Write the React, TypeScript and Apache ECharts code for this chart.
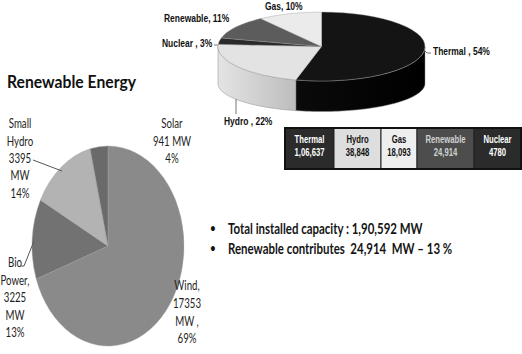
import React, { useEffect, useRef } from "react";
import * as echarts from "echarts";

// ---- Data ----
// Installed capacity mix (3D pie), clockwise from 12 o'clock
const mixNames = ["Thermal", "Hydro", "Nuclear", "Renewable", "Gas"];
const mixShares = [54, 22, 3, 11, 10];
const mixSeps = [" , ", " , ", " , ", ", ", ", "];

// Renewable breakdown (MW), clockwise from 12 o'clock
const reNames = ["Wind", "Bio Power", "Small Hydro", "Solar"];
const reMW = [17353, 3225, 3395, 941];
const rePct = [69, 13, 14, 4];

// Capacity table
const tableNames = ["Thermal", "Hydro", "Gas", "Renewable", "Nuclear"];
const tableValues = ["1,06,637", "38,848", "18,093", "24,914", "4780"];

const titleText = "Renewable Energy";
const bulletTexts = [
  "Total installed capacity : 1,90,592 MW",
  "Renewable contributes  24,914  MW \u2013 13 %",
];

// ---- Styling / layout ----
const SX = 0.77;
const TOP = { cx: 321.5, cy: 46.5, rx: 103.5, ry: 34.5, cyB: 83.5, ryB: 28 };
const LEFT = { cx: 108, cy: 246, rx: 76, ry: 100 };

const mixTop = ["#141414", "#e3e3e3", "#2a2a2a", "#5c5c5c", "#ebebeb"];
const reColors = ["#8a8a8a", "#727272", "#b3b3b3", "#6a6a6a"];

function cumulative(arr: number[]) {
  const out = [0];
  arr.forEach((v, i) => out.push(out[i] + v));
  return out;
}

let measureCtx: CanvasRenderingContext2D | null = null;
function fitScale(text: string, font: string, width: number) {
  if (!measureCtx) measureCtx = document.createElement("canvas").getContext("2d");
  measureCtx!.font = font;
  const w = measureCtx!.measureText(text).width;
  return w > 0 ? width / w : SX;
}

function txt(
  t: string,
  x: number,
  y: number,
  font: string,
  fill: string,
  align: string = "left",
  vAlign: string = "middle",
  sx: number = SX,
  lineHeight?: number
) {
  const style: any = { text: t, x: 0, y: 0, font, fill, textAlign: align, textVerticalAlign: vAlign };
  if (lineHeight) style.lineHeight = lineHeight;
  return { type: "text", x, y, scaleX: sx, z: 50, silent: true, style };
}

export default function App() {
  const ref = useRef<HTMLDivElement>(null);

  useEffect(() => {
    const chart = echarts.init(ref.current!, null, { renderer: "svg" });

    const mixTotal = mixShares.reduce((a, b) => a + b, 0);
    const mixCum = cumulative(mixShares);
    const reTotal = reMW.reduce((a, b) => a + b, 0);
    const reCum = cumulative(reMW);

    const mixSide: any[] = [
      new echarts.graphic.LinearGradient(0, 0, 1, 0, [
        { offset: 0, color: "#0a0a0a" },
        { offset: 1, color: "#000000" },
      ]),
      new echarts.graphic.LinearGradient(0, 0, 1, 0, [
        { offset: 0, color: "#e4e4e4" },
        { offset: 1, color: "#bdbdbd" },
      ]),
      "#1a1a1a",
      "#444444",
      "#cccccc",
    ];

    const topLabelFont = "bold 11px 'Liberation Sans', Arial, sans-serif";
    const labelPos: Record<string, [number, number]> = {
      Thermal: [433, 51],
      Hydro: [224, 121],
      Nuclear: [162, 43],
      Renewable: [164, 18],
      Gas: [265, 6],
    };

    const graphics: any[] = [];

    // Top pie labels
    mixNames.forEach((n, i) => {
      const p = labelPos[n];
      graphics.push(txt(`${n}${mixSeps[i]}${mixShares[i]}%`, p[0], p[1], topLabelFont, "#111"));
    });
    // Leader lines (top pie)
    graphics.push({ type: "line", z: 50, shape: { x1: 236, y1: 99, x2: 236, y2: 114 }, style: { stroke: "#777", lineWidth: 1 } });
    graphics.push({ type: "polyline", z: 50, shape: { points: [[425, 51], [427, 53], [431, 53]] }, style: { stroke: "#777", lineWidth: 1, fill: "none" } });
    graphics.push({ type: "line", z: 50, shape: { x1: 214, y1: 45, x2: 218, y2: 45 }, style: { stroke: "#777", lineWidth: 1 } });

    // Table
    const colEdges = [285, 334, 381, 417, 474, 521];
    const tY0 = 128, tY1 = 169;
    const cellFill = ["#2b2b2b", "#dedede", "#eeeeee", "#4d4d4d", "#2b2b2b"];
    const cellText = ["#ffffff", "#111111", "#111111", "#d0d0d0", "#ffffff"];
    const tableFont = "bold 10px 'Liberation Sans', Arial, sans-serif";
    tableNames.forEach((n, i) => {
      const x0 = colEdges[i], x1 = colEdges[i + 1];
      graphics.push({
        type: "rect", z: 40,
        shape: { x: x0, y: tY0, width: x1 - x0, height: tY1 - tY0 },
        style: { fill: cellFill[i], stroke: "#222", lineWidth: 1 },
      });
      const cx = (x0 + x1) / 2;
      graphics.push(txt(n, cx, 140, tableFont, cellText[i], "center"));
      graphics.push(txt(tableValues[i], cx, 153, tableFont, cellText[i], "center"));
    });
    graphics.push({
      type: "rect", z: 45,
      shape: { x: colEdges[0], y: tY0, width: colEdges[5] - colEdges[0], height: tY1 - tY0 },
      style: { fill: "none", stroke: "#111", lineWidth: 2 },
    });

    // Title
    const titleFont = "bold 17px Lato, sans-serif";
    graphics.push(txt(titleText, 7, 81, titleFont, "#111", "left", "middle", fitScale(titleText, titleFont, 129)));

    // Bullets
    const bulletFont = "bold 15px Lato, sans-serif";
    const bs = fitScale(bulletTexts[0], bulletFont, 195);
    const bulletY = [228, 248];
    bulletTexts.forEach((b, i) => {
      graphics.push(txt("\u2022", 213, bulletY[i], "14px Lato, sans-serif", "#111", "center"));
      graphics.push(txt(b, 228, bulletY[i], bulletFont, "#151515", "left", "middle", bs));
    });

    // Left pie labels
    const lf = "12.5px Lato, sans-serif";
    const ls = fitScale(`${reMW[3]} MW`, lf, 38.3);
    const lc = "#1e1e1e";
    graphics.push(txt(`Small\nHydro\n${reMW[2]}\nMW\n${rePct[2]}%`, 20, 114.5, lf, lc, "center", "top", ls, 17.4));
    graphics.push(txt(`Solar\n${reMW[3]} MW\n${rePct[3]}%`, 172, 114.5, lf, lc, "center", "top", ls, 17.4));
    graphics.push(txt(`Bio\nPower,\n${reMW[1]}\nMW\n${rePct[1]}%`, 15, 253.5, lf, lc, "center", "top", ls, 17.5));
    graphics.push(txt(`Wind,\n${reMW[0]}\nMW ,\n${rePct[0]}%`, 187, 276.5, lf, lc, "center", "top", ls, 17.6));
    graphics.push({ type: "line", z: 50, shape: { x1: 33, y1: 160, x2: 62, y2: 171 }, style: { stroke: "#555", lineWidth: 1 } });
    graphics.push({ type: "polyline", z: 50, shape: { points: [[21, 266], [24, 266], [34, 241]] }, style: { stroke: "#555", lineWidth: 1, fill: "none" } });

    const option: any = {
      animation: false,
      backgroundColor: "#ffffff",
      series: [
        {
          type: "custom",
          name: "Installed capacity",
          coordinateSystem: "none",
          silent: true,
          data: mixShares,
          renderItem: (params: any) => {
            const i = params.dataIndex;
            const t0 = (mixCum[i] / mixTotal) * 360;
            const t1 = (mixCum[i + 1] / mixTotal) * 360;
            const children: any[] = [];
            const a = Math.max(t0, 90), b = Math.min(t1, 270);
            if (b > a) {
              const n = Math.max(2, Math.ceil((b - a) / 2));
              const topPts: number[][] = [];
              const botPts: number[][] = [];
              for (let k = 0; k <= n; k++) {
                const th = ((a + ((b - a) * k) / n) * Math.PI) / 180;
                const x = TOP.cx + TOP.rx * Math.sin(th);
                topPts.push([x, TOP.cy - TOP.ry * Math.cos(th)]);
                botPts.push([x, TOP.cyB - TOP.ryB * Math.cos(th)]);
              }
              children.push({
                type: "polygon",
                shape: { points: topPts.concat(botPts.reverse()) },
                style: { fill: mixSide[i], stroke: "#8a8a8a", lineWidth: 0.5 },
              });
            }
            children.push({
              type: "sector",
              x: TOP.cx,
              y: TOP.cy,
              scaleY: TOP.ry / TOP.rx,
              shape: {
                cx: 0, cy: 0, r: TOP.rx, r0: 0,
                startAngle: ((t0 - 90) * Math.PI) / 180,
                endAngle: ((t1 - 90) * Math.PI) / 180,
                clockwise: true,
              },
              style: { fill: mixTop[i], stroke: "#9a9a9a", lineWidth: 0.6, strokeNoScale: true },
            });
            return { type: "group", children };
          },
        },
        {
          type: "custom",
          name: "Renewable Energy",
          coordinateSystem: "none",
          silent: true,
          data: reMW,
          renderItem: (params: any) => {
            const i = params.dataIndex;
            const a0 = -Math.PI / 2 + (reCum[i] / reTotal) * 2 * Math.PI;
            const a1 = -Math.PI / 2 + (reCum[i + 1] / reTotal) * 2 * Math.PI;
            return {
              type: "sector",
              x: LEFT.cx,
              y: LEFT.cy,
              scaleX: LEFT.rx / LEFT.ry,
              shape: { cx: 0, cy: 0, r: LEFT.ry, r0: 0, startAngle: a0, endAngle: a1, clockwise: true },
              style: { fill: reColors[i], stroke: "#a0a0a0", lineWidth: 0.5, strokeNoScale: true },
            };
          },
        },
      ],
      graphic: graphics,
    };

    chart.setOption(option);
    return () => chart.dispose();
  }, []);

  return (
    <div
      ref={ref}
      style={{ position: "fixed", left: 0, top: 0, width: 522, height: 354, background: "#fff" }}
    />
  );
}
